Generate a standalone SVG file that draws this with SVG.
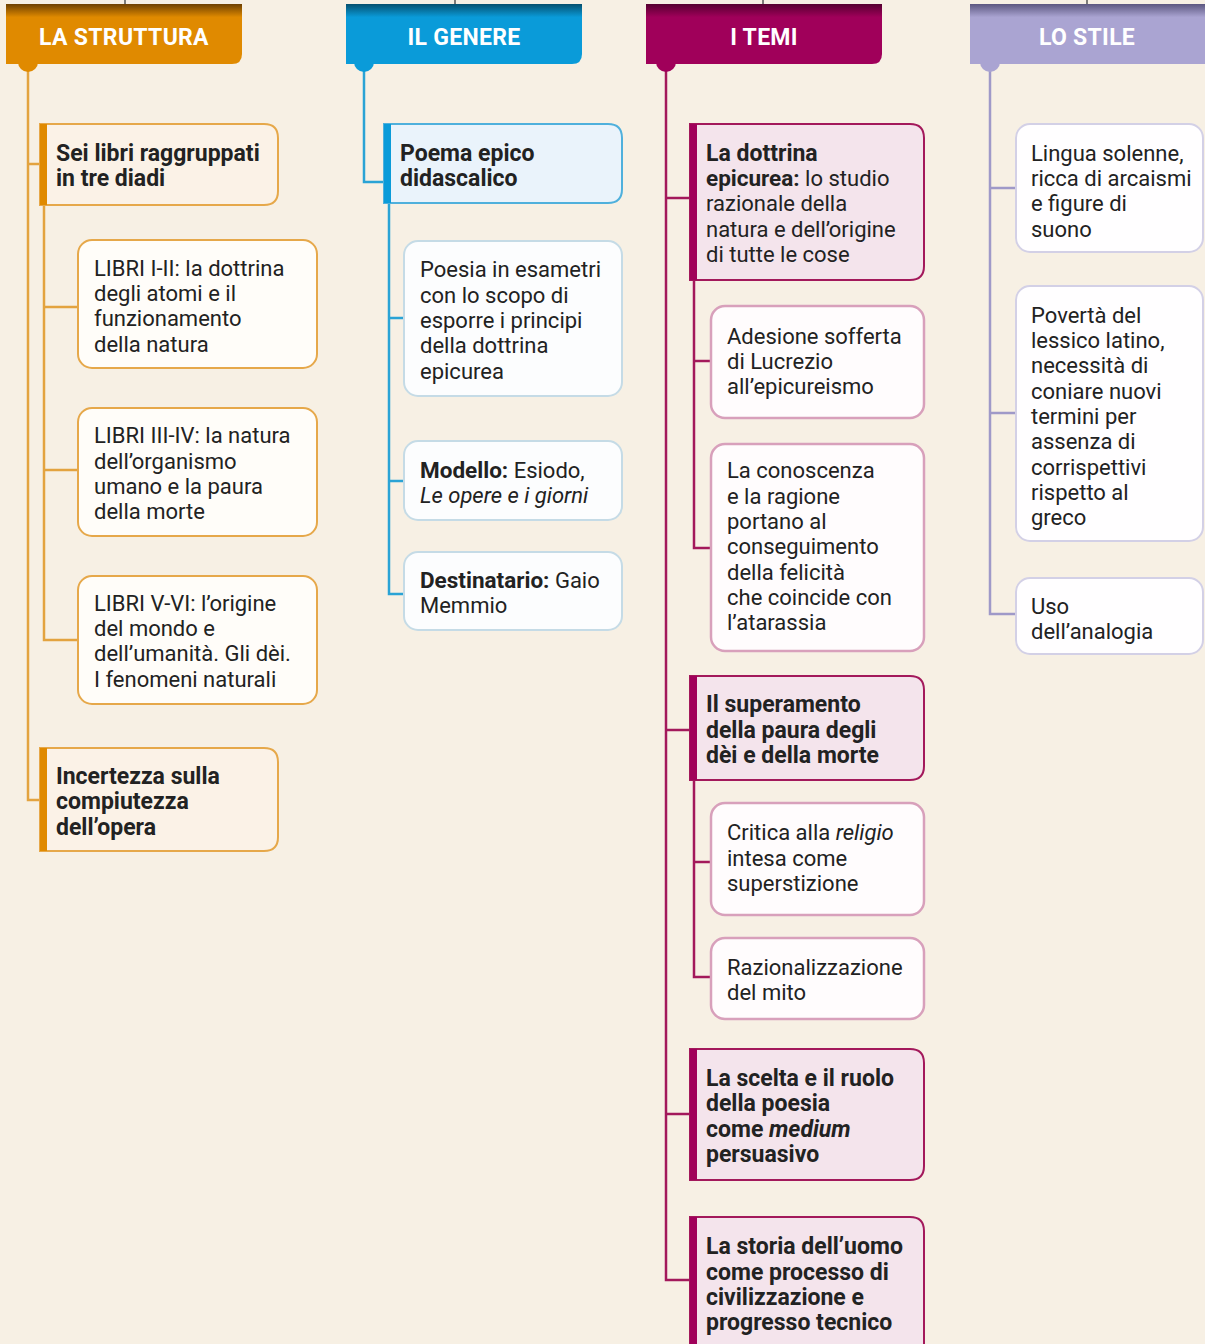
<svg xmlns="http://www.w3.org/2000/svg" width="1205" height="1344" viewBox="0 0 1205 1344">
<defs>
<linearGradient id="gO" x1="0" y1="0" x2="0" y2="1"><stop offset="0" stop-color="#6e4000"/><stop offset="0.22" stop-color="#e08a00"/><stop offset="1" stop-color="#e08a00"/></linearGradient>
<linearGradient id="gB" x1="0" y1="0" x2="0" y2="1"><stop offset="0" stop-color="#05506f"/><stop offset="0.22" stop-color="#0a9bd9"/><stop offset="1" stop-color="#0a9bd9"/></linearGradient>
<linearGradient id="gM" x1="0" y1="0" x2="0" y2="1"><stop offset="0" stop-color="#560030"/><stop offset="0.22" stop-color="#a0005a"/><stop offset="1" stop-color="#a0005a"/></linearGradient>
<linearGradient id="gL" x1="0" y1="0" x2="0" y2="1"><stop offset="0" stop-color="#5c5780"/><stop offset="0.22" stop-color="#aaa4d2"/><stop offset="1" stop-color="#aaa4d2"/></linearGradient>
<style>
text{font-family:Roboto,"Noto Sans","Liberation Sans",sans-serif;font-size:22px;fill:#222;}
.h{font-size:23px;font-weight:700;fill:#fff;letter-spacing:0.3px;text-anchor:middle;}
.b{font-weight:700;font-size:23px;}
tspan.b{font-size:22.5px;}
.i{font-style:italic;}
.top{stroke:#555;stroke-width:1.5;fill:none;}
.cO{stroke:#e3a33f;stroke-width:2.5;fill:none;}
.cB{stroke:#2aa3d5;stroke-width:2.5;fill:none;}
.cM{stroke:#a3195b;stroke-width:2.5;fill:none;}
.cL{stroke:#9f99c8;stroke-width:2.5;fill:none;}
.mO{fill:#fbf2e7;stroke:#e6a84a;stroke-width:2;}
.sO{fill:#fffdf9;stroke:#e6a84a;stroke-width:2;}
.mB{fill:#eaf3fb;stroke:#4fb0dc;stroke-width:2;}
.sB{fill:#fcfdfe;stroke:#c5dbe6;stroke-width:2;}
.mM{fill:#f4e4ec;stroke:#a3195b;stroke-width:2;}
.sM{fill:#fffcfd;stroke:#d8a0bb;stroke-width:2.5;}
.sL{fill:#fffeff;stroke:#d3d0e6;stroke-width:2;}
</style>
</defs>
<rect width="1205" height="1344" fill="#f7f0e4"/>

<g id="connectors">
<path class="top" d="M125,0V5M455,0V5M763,0V5M1087,0V5"/>
<path class="cO" d="M28,64V800H40M28,164H40"/>
<path class="cO" d="M44,205V640H78M44,307H78M44,470H78"/>
<path class="cB" d="M364,64V182H384"/>
<path class="cB" d="M389,203V594H404M389,318H404M389,481H404"/>
<path class="cM" d="M666,64V1280H690M666,198H690M666,730H690M666,1114H690"/>
<path class="cM" d="M694,280V548H711M694,361H711"/>
<path class="cM" d="M694,780V977H711M694,862H711"/>
<path class="cL" d="M990,64V614H1016M990,188H1016M990,413H1016"/>
</g>

<g id="h-struttura">
<circle cx="28" cy="62" r="10" fill="#e08a00"/>
<path d="M6,4H242V54Q242,64 232,64H6Z" fill="url(#gO)"/>
<text class="h" x="124" y="45">LA STRUTTURA</text>
</g>
<g id="h-genere">
<circle cx="364" cy="62" r="10" fill="#0a9bd9"/>
<path d="M346,4H582V54Q582,64 572,64H346Z" fill="url(#gB)"/>
<text class="h" x="464" y="45">IL GENERE</text>
</g>
<g id="h-temi">
<circle cx="666" cy="62" r="10" fill="#a0005a"/>
<path d="M646,4H882V54Q882,64 872,64H646Z" fill="url(#gM)"/>
<text class="h" x="764" y="45">I TEMI</text>
</g>
<g id="h-stile">
<circle cx="990" cy="62" r="10" fill="#aaa4d2"/>
<path d="M970,4H1205V64H970Z" fill="url(#gL)"/>
<text class="h" x="1087" y="45">LO STILE</text>
</g>

<!-- STRUTTURA -->
<g id="n-sei-libri">
<path class="mO" d="M40,124H264Q278,124 278,138V191Q278,205 264,205H40Z"/>
<rect x="40" y="124" width="7" height="81" fill="#e08a00"/>
<text class="b" x="56" y="161">Sei libri raggruppati</text>
<text class="b" x="56" y="186">in tre diadi</text>
</g>
<g id="n-libri-1">
<rect class="sO" x="78" y="240" width="239" height="128" rx="14"/>
<text x="94" y="276">LIBRI I-II: la dottrina</text>
<text x="94" y="301">degli atomi e il</text>
<text x="94" y="326">funzionamento</text>
<text x="94" y="352">della natura</text>
</g>
<g id="n-libri-3">
<rect class="sO" x="78" y="408" width="239" height="128" rx="14"/>
<text x="94" y="443">LIBRI III-IV: la natura</text>
<text x="94" y="469">dell’organismo</text>
<text x="94" y="494">umano e la paura</text>
<text x="94" y="519">della morte</text>
</g>
<g id="n-libri-5">
<rect class="sO" x="78" y="576" width="239" height="128" rx="14"/>
<text x="94" y="611">LIBRI V-VI: l’origine</text>
<text x="94" y="636">del mondo e</text>
<text x="94" y="661">dell’umanità. Gli dèi.</text>
<text x="94" y="687">I fenomeni naturali</text>
</g>
<g id="n-incertezza">
<path class="mO" d="M40,748H264Q278,748 278,762V837Q278,851 264,851H40Z"/>
<rect x="40" y="748" width="7" height="103" fill="#e08a00"/>
<text class="b" x="56" y="784">Incertezza sulla</text>
<text class="b" x="56" y="809">compiutezza</text>
<text class="b" x="56" y="835">dell’opera</text>
</g>

<!-- GENERE -->
<g id="n-poema">
<path class="mB" d="M384,124H608Q622,124 622,138V189Q622,203 608,203H384Z"/>
<rect x="384" y="124" width="7" height="79" fill="#0a9bd9"/>
<text class="b" x="400" y="161">Poema epico</text>
<text class="b" x="400" y="186">didascalico</text>
</g>
<g id="n-poesia">
<rect class="sB" x="404" y="241" width="218" height="155" rx="14"/>
<text x="420" y="277">Poesia in esametri</text>
<text x="420" y="303">con lo scopo di</text>
<text x="420" y="328">esporre i principi</text>
<text x="420" y="353">della dottrina</text>
<text x="420" y="379">epicurea</text>
</g>
<g id="n-modello">
<rect class="sB" x="404" y="441" width="218" height="79" rx="14"/>
<text x="420" y="478"><tspan class="b">Modello:</tspan> Esiodo,</text>
<text class="i" x="420" y="503">Le opere e i giorni</text>
</g>
<g id="n-destinatario">
<rect class="sB" x="404" y="552" width="218" height="78" rx="14"/>
<text x="420" y="588"><tspan class="b">Destinatario:</tspan> Gaio</text>
<text x="420" y="613">Memmio</text>
</g>

<!-- TEMI -->
<g id="n-dottrina">
<path class="mM" d="M690,124H910Q924,124 924,138V266Q924,280 910,280H690Z"/>
<rect x="690" y="124" width="7" height="156" fill="#a0005a"/>
<text class="b" x="706" y="161">La dottrina</text>
<text x="706" y="186"><tspan class="b">epicurea:</tspan> lo studio</text>
<text x="706" y="211">razionale della</text>
<text x="706" y="237">natura e dell’origine</text>
<text x="706" y="262">di tutte le cose</text>
</g>
<g id="n-adesione">
<rect class="sM" x="711" y="306" width="213" height="112" rx="14"/>
<text x="727" y="344">Adesione sofferta</text>
<text x="727" y="369">di Lucrezio</text>
<text x="727" y="394">all’epicureismo</text>
</g>
<g id="n-conoscenza">
<rect class="sM" x="711" y="444" width="213" height="207" rx="14"/>
<text x="727" y="478">La conoscenza</text>
<text x="727" y="504">e la ragione</text>
<text x="727" y="529">portano al</text>
<text x="727" y="554">conseguimento</text>
<text x="727" y="580">della felicità</text>
<text x="727" y="605">che coincide con</text>
<text x="727" y="630">l’atarassia</text>
</g>
<g id="n-superamento">
<path class="mM" d="M690,676H910Q924,676 924,690V766Q924,780 910,780H690Z"/>
<rect x="690" y="676" width="7" height="104" fill="#a0005a"/>
<text class="b" x="706" y="712">Il superamento</text>
<text class="b" x="706" y="738">della paura degli</text>
<text class="b" x="706" y="763">dèi e della morte</text>
</g>
<g id="n-critica">
<rect class="sM" x="711" y="803" width="213" height="112" rx="14"/>
<text x="727" y="840">Critica alla <tspan class="i">religio</tspan></text>
<text x="727" y="866">intesa come</text>
<text x="727" y="891">superstizione</text>
</g>
<g id="n-razionalizzazione">
<rect class="sM" x="711" y="938" width="213" height="81" rx="14"/>
<text x="727" y="975">Razionalizzazione</text>
<text x="727" y="1000">del mito</text>
</g>
<g id="n-scelta">
<path class="mM" d="M690,1049H910Q924,1049 924,1063V1166Q924,1180 910,1180H690Z"/>
<rect x="690" y="1049" width="7" height="131" fill="#a0005a"/>
<text class="b" x="706" y="1086">La scelta e il ruolo</text>
<text class="b" x="706" y="1111">della poesia</text>
<text class="b" x="706" y="1137">come <tspan class="i">medium</tspan></text>
<text class="b" x="706" y="1162">persuasivo</text>
</g>
<g id="n-storia">
<path class="mM" d="M690,1217H910Q924,1217 924,1231V1346Q924,1360 910,1360H690Z"/>
<rect x="690" y="1217" width="7" height="143" fill="#a0005a"/>
<text class="b" x="706" y="1254">La storia dell’uomo</text>
<text class="b" x="706" y="1280">come processo di</text>
<text class="b" x="706" y="1305">civilizzazione e</text>
<text class="b" x="706" y="1330">progresso tecnico</text>
</g>

<!-- STILE -->
<g id="n-lingua">
<rect class="sL" x="1016" y="124" width="187" height="128" rx="14"/>
<text x="1031" y="161">Lingua solenne,</text>
<text x="1031" y="186">ricca di arcaismi</text>
<text x="1031" y="211">e figure di</text>
<text x="1031" y="237">suono</text>
</g>
<g id="n-poverta">
<rect class="sL" x="1016" y="286" width="187" height="255" rx="14"/>
<text x="1031" y="323">Povertà del</text>
<text x="1031" y="348">lessico latino,</text>
<text x="1031" y="373">necessità di</text>
<text x="1031" y="399">coniare nuovi</text>
<text x="1031" y="424">termini per</text>
<text x="1031" y="449">assenza di</text>
<text x="1031" y="475">corrispettivi</text>
<text x="1031" y="500">rispetto al</text>
<text x="1031" y="525">greco</text>
</g>
<g id="n-uso">
<rect class="sL" x="1016" y="578" width="187" height="76" rx="14"/>
<text x="1031" y="614">Uso</text>
<text x="1031" y="639">dell’analogia</text>
</g>
</svg>
